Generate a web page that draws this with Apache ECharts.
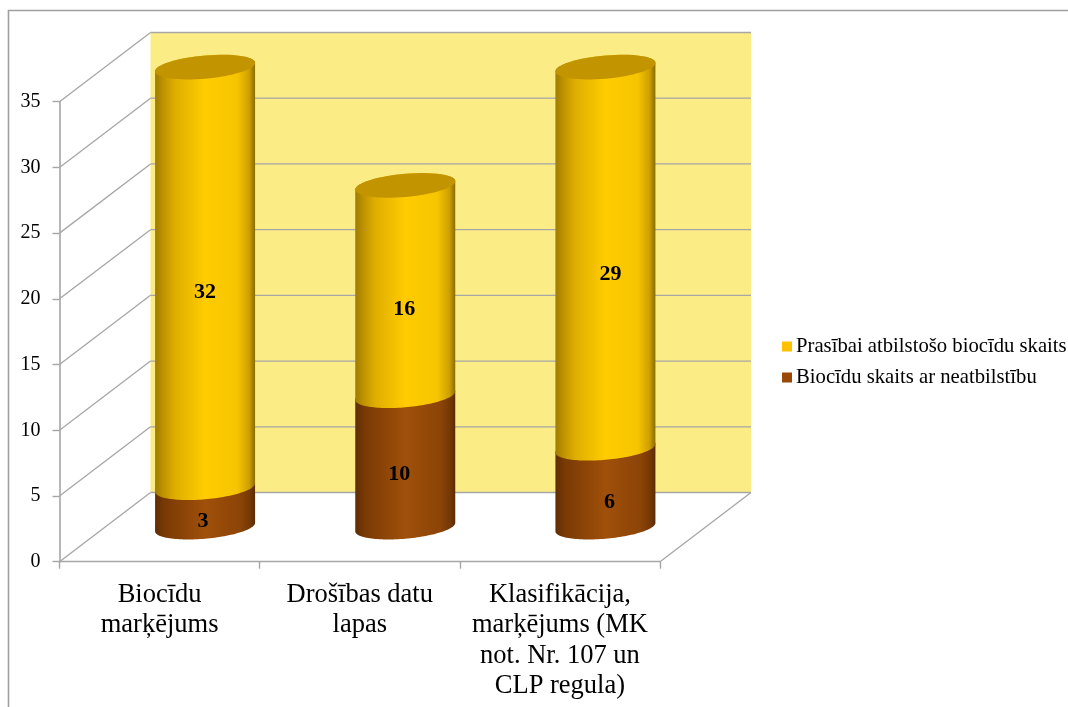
<!DOCTYPE html>
<html><head><meta charset="utf-8">
<style>html,body{margin:0;padding:0;background:#fff}#c{width:1068px;height:707px}</style>
<script src="https://cdn.jsdelivr.net/npm/echarts@6/dist/echarts.min.js"></script>
</head><body><div id="c"></div>
<script>
const categories = ['Biocīdu\nmarķējums', 'Drošības datu\nlapas', 'Klasifikācija,\nmarķējums (MK\nnot. Nr. 107 un\nCLP regula)'];
const compliantName = 'Prasībai atbilstošo biocīdu skaits';
const nonCompliantName = 'Biocīdu skaits ar neatbilstību';
const compliant = [32, 16, 29];
const nonCompliant = [3, 10, 6];
const yTicks = [0, 5, 10, 15, 20, 25, 30, 35];

const SERIF = '"Liberation Serif","Times New Roman",serif';
const DEPTH_X = 91, DEPTH_Y = 69.2;     // oblique depth of the 3D box
const RX = 50, RY = 11.6, TILT = 0.085; // cylinder cross-section
// the reference's data labels are hand-placed slightly off-centre
const compliantLabelShift = [[0, 14.5], [-1, 19], [5, 16.5]];
const nonCompliantLabelShift = [[-2, 14], [-6, 13], [4, 14.5]];

function grad(stops) {
  return new echarts.graphic.LinearGradient(0, 0, 1, 0, stops.map(s => ({offset: s[0], color: s[1]})));
}
function arc(cx, cy, from, to) {
  const pts = [], n = 64;
  for (let i = 0; i <= n; i++) {
    const t = from + (to - from) * i / n;
    pts.push([cx + RX * Math.cos(t), cy - TILT * RX * Math.cos(t) + RY * Math.sin(t)]);
  }
  return pts;
}
function cylinderRenderer(fill, isTop, labelShift) {
  return function (params, api) {
    const base = api.coord([api.value(0), api.value(1)]);
    const top = api.coord([api.value(0), api.value(2)]);
    const cx = base[0] + DEPTH_X / 2;
    const y0 = base[1] - DEPTH_Y / 2, y1 = top[1] - DEPTH_Y / 2;
    const body = arc(cx, y0, Math.PI, 0).concat(arc(cx, y1, 0, -Math.PI));
    const children = [{type: 'polygon', shape: {points: body}, style: {fill: fill}}];
    if (isTop) children.push({type: 'polygon', shape: {points: arc(cx, y1, 0, 2 * Math.PI)}, style: {fill: '#C29400'}});
    const shift = labelShift[params.dataIndex];
    children.push({type: 'text', z2: 10, style: {
      text: String(api.value(2) - api.value(1)), x: cx + shift[0], y: (y0 + y1) / 2 + shift[1],
      align: 'center', verticalAlign: 'middle', fill: '#000', font: 'bold 22px ' + SERIF
    }});
    return {type: 'group', children: children};
  };
}
function wallRenderer(params, api) {
  const r = params.coordSys;
  const v = api.value(0), y = api.coord([0, v])[1];
  const line = {stroke: '#A6A6A6', lineWidth: 1.3};
  const out = [];
  if (params.dataIndex === 0) {
    out.push({type: 'rect', shape: {x: r.x + DEPTH_X, y: r.y - DEPTH_Y, width: r.width, height: r.height}, style: {fill: '#FCEC86'}});
    out.push({type: 'line', shape: {x1: r.x + r.width, y1: y, x2: r.x + r.width + DEPTH_X, y2: y - DEPTH_Y}, style: line});
  }
  out.push({type: 'line', shape: {x1: r.x, y1: y, x2: r.x + DEPTH_X, y2: y - DEPTH_Y}, style: line});
  out.push({type: 'line', shape: {x1: r.x + DEPTH_X, y1: y - DEPTH_Y, x2: r.x + r.width + DEPTH_X, y2: y - DEPTH_Y}, style: line});
  return {type: 'group', children: out};
}

const chart = echarts.init(document.getElementById('c'), null, {renderer: 'canvas'});
chart.setOption({
  animation: false,
  backgroundColor: '#fff',
  graphic: [{type: 'rect', silent: true, z: -10, shape: {x: 8.5, y: 10.5, width: 1200, height: 900},
    style: {fill: 'none', stroke: '#A0A0A0', lineWidth: 1.6}}],
  grid: {left: 59.5, top: 101.7, width: 600.5, height: 460},
  legend: {
    orient: 'vertical', left: 777, top: 331, itemWidth: 10, itemHeight: 10, itemGap: 10,
    icon: 'rect', selectedMode: false,
    data: [compliantName, nonCompliantName],
    textStyle: {fontFamily: SERIF, fontSize: 20.7, lineHeight: 20, color: '#000', padding: [0, 0, 0, -1]}
  },
  xAxis: {
    type: 'category', data: categories, boundaryGap: true,
    axisLine: {lineStyle: {color: '#A6A6A6', width: 1.4}},
    axisTick: {show: true, alignWithLabel: false, length: 7, lineStyle: {color: '#A6A6A6', width: 1.4}},
    axisLabel: {fontFamily: SERIF, fontSize: 26.5, color: '#000', lineHeight: 30.5, margin: 18, interval: 0}
  },
  yAxis: {
    type: 'value', min: 0, max: 35, interval: 5,
    axisLine: {show: true, lineStyle: {color: '#ABABAB', width: 1.7}},
    axisTick: {show: true, length: 7, lineStyle: {color: '#A6A6A6', width: 1.4}},
    splitLine: {show: false},
    axisLabel: {fontFamily: SERIF, fontSize: 20, color: '#000', margin: 19}
  },
  series: [
    {type: 'custom', name: 'wall', silent: true, z: 1, renderItem: wallRenderer,
     encode: {x: 1, y: 0}, data: yTicks.map(t => [t, 0])},
    {type: 'custom', name: nonCompliantName, z: 2, itemStyle: {color: '#984807'},
     renderItem: cylinderRenderer(grad([[0, '#5F2E04'], [0.1, '#7A3A05'], [0.3, '#8D4507'], [0.5, '#A0500A'], [0.85, '#8C4407'], [0.95, '#743805'], [1, '#5A2B04']]), false, nonCompliantLabelShift),
     encode: {x: 0, y: [1, 2]},
     data: nonCompliant.map((v, i) => [i, 0, v])},
    {type: 'custom', name: compliantName, z: 3, itemStyle: {color: '#FFC000'},
     renderItem: cylinderRenderer(grad([[0, '#A07C00'], [0.08, '#BE9200'], [0.2, '#DFAE00'], [0.5, '#FFCC00'], [0.82, '#F7C500'], [0.94, '#CDA000'], [1, '#8A6C00']]), true, compliantLabelShift),
     encode: {x: 0, y: [1, 2]},
     data: compliant.map((v, i) => [i, nonCompliant[i], nonCompliant[i] + v])}
  ]
});
</script></body></html>
